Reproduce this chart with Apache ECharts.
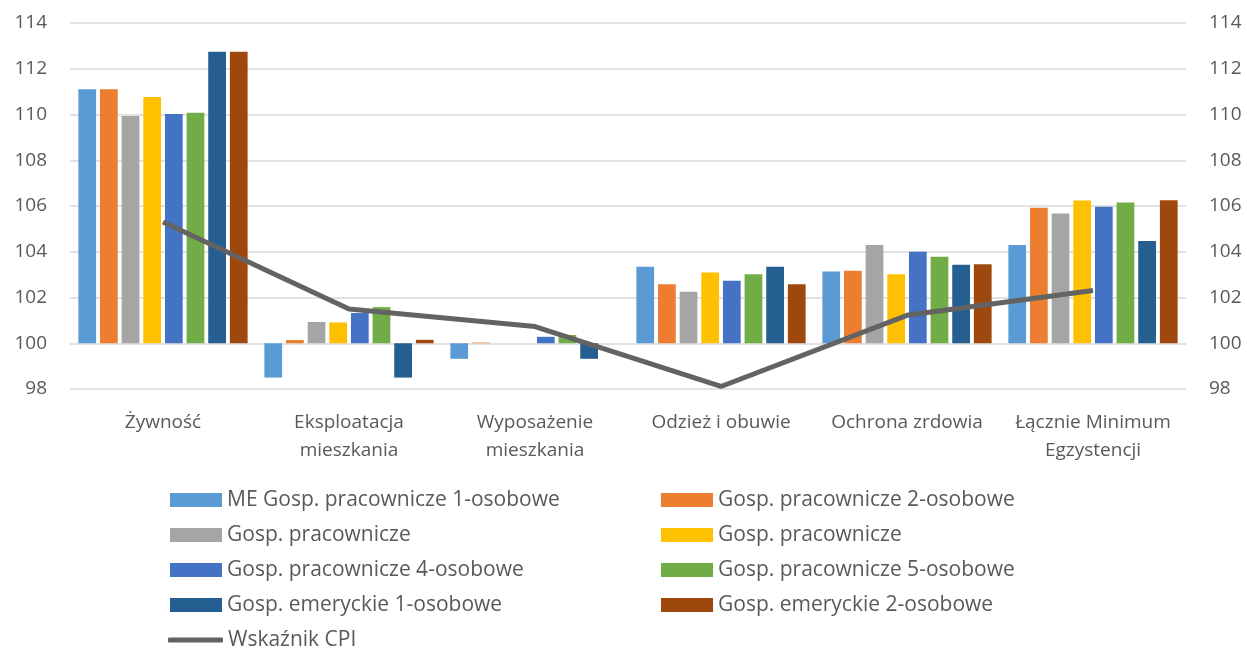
<!DOCTYPE html>
<html>
<head>
<meta charset="utf-8">
<script src="https://cdn.jsdelivr.net/npm/echarts@6/dist/echarts.min.js"></script>
<style>html,body{margin:0;padding:0;background:#fff;}#c{width:1247px;height:650px;}</style>
</head>
<body>
<div id="c"></div>
<script>
const categories = ['Żywność', 'Eksploatacja\nmieszkania', 'Wyposażenie\nmieszkania', 'Odzież i obuwie', 'Ochrona zrdowia', 'Łącznie Minimum\nEgzystencji'];
const seriesNames = ['ME Gosp. pracownicze 1-osobowe', 'Gosp. pracownicze 2-osobowe', 'Gosp. pracownicze', 'Gosp. pracownicze', 'Gosp. pracownicze 4-osobowe', 'Gosp. pracownicze 5-osobowe', 'Gosp. emeryckie 1-osobowe', 'Gosp. emeryckie 2-osobowe'];
const lineName = 'Wskaźnik CPI';
const s1 = [111.10, 98.50, 99.32, 103.34, 103.14, 104.29];
const s2 = [111.10, 100.14, 100.03, 102.58, 103.17, 105.92];
const s3 = [109.93, 100.93, 100.00, 102.25, 104.29, 105.67];
const s4 = [110.76, 100.91, 100.00, 103.09, 103.02, 106.24];
const s5 = [110.02, 101.32, 100.28, 102.73, 104.00, 105.97];
const s6 = [110.08, 101.58, 100.36, 103.02, 103.78, 106.15];
const s7 = [112.74, 98.50, 99.32, 103.34, 103.43, 104.47];
const s8 = [112.74, 100.15, 100.00, 102.58, 103.45, 106.25];
const cpi = [105.30, 101.50, 100.73, 98.11, 101.22, 102.31];
const yTicks = [98, 100, 102, 104, 106, 108, 110, 112, 114];
const BASE = 100;

const colors = ['#5B9BD5', '#ED7D31', '#A5A5A5', '#FFC000', '#4472C4', '#70AD47', '#255E91', '#9E480E'];
const barData = [s1, s2, s3, s4, s5, s6, s7, s8];
const FONT = 'Open Sans';
const TXT = '#595959';

// unique internal names (duplicate legend labels in the original)
const uniq = seriesNames.map((n, i) => n + '\u200b'.repeat(i));
const strip = n => n.replace(/\u200b/g, '');

const series = barData.map((d, i) => ({
  name: uniq[i],
  type: 'bar',
  data: d.map(v => +(v - BASE).toFixed(4)),
  itemStyle: { color: colors[i] },
  barGap: '22%',
  barCategoryGap: '9%',
  animation: false
}));
series.push({
  name: lineName,
  type: 'line',
  data: cpi.map(v => +(v - BASE).toFixed(4)),
  symbol: 'none',
  lineStyle: { color: '#636363', width: 5 },
  itemStyle: { color: '#636363' },
  z: 5,
  animation: false
});

const legendPos = [
  [170, 488], [661, 488],
  [170, 523], [661, 523],
  [170, 558], [661, 558],
  [170, 593], [661, 593],
  [168, 628]
];
const legendNames = uniq.concat([lineName]);
const legends = legendNames.map((n, i) => {
  const isLine = n === lineName;
  return {
    data: [n],
    left: legendPos[i][0],
    top: legendPos[i][1],
    itemWidth: isLine ? 55 : 52,
    itemHeight: isLine ? 5 : 14,
    icon: isLine ? 'roundRect' : 'rect',
    itemGap: 6,
    padding: 0,
    selectedMode: false,
    formatter: strip,
    textStyle: { fontFamily: FONT, fontSize: 21, color: TXT, height: 24, lineHeight: 24 }
  };
});

const yMin = yTicks[0] - BASE, yMax = yTicks[yTicks.length - 1] - BASE;
const yLab = { fontFamily: FONT, fontSize: 19, color: TXT, formatter: v => String(v + BASE) };

const option = {
  backgroundColor: '#fff',
  animation: false,
  grid: { left: 70, right: 61, top: 23, bottom: 261, containLabel: false },
  legend: legends,
  xAxis: {
    type: 'category',
    data: categories,
    axisLine: { show: false, onZero: false },
    axisTick: { show: false },
    axisLabel: { fontFamily: FONT, fontSize: 19, color: TXT, lineHeight: 28, margin: 20, interval: 0 }
  },
  yAxis: [
    {
      type: 'value', min: yMin, max: yMax, interval: 2, position: 'left',
      axisLine: { show: false }, axisTick: { show: false },
      splitLine: { lineStyle: { color: '#D9D9D9', width: 1.5 } },
      axisLabel: Object.assign({ margin: 23 }, yLab)
    },
    {
      type: 'value', min: yMin, max: yMax, interval: 2, position: 'right',
      axisLine: { show: false }, axisTick: { show: false },
      splitLine: { show: false },
      axisLabel: Object.assign({ margin: 23 }, yLab)
    }
  ],
  series: series
};

const chart = echarts.init(document.getElementById('c'), null, { renderer: 'canvas' });
chart.setOption(option);
</script>
</body>
</html>
